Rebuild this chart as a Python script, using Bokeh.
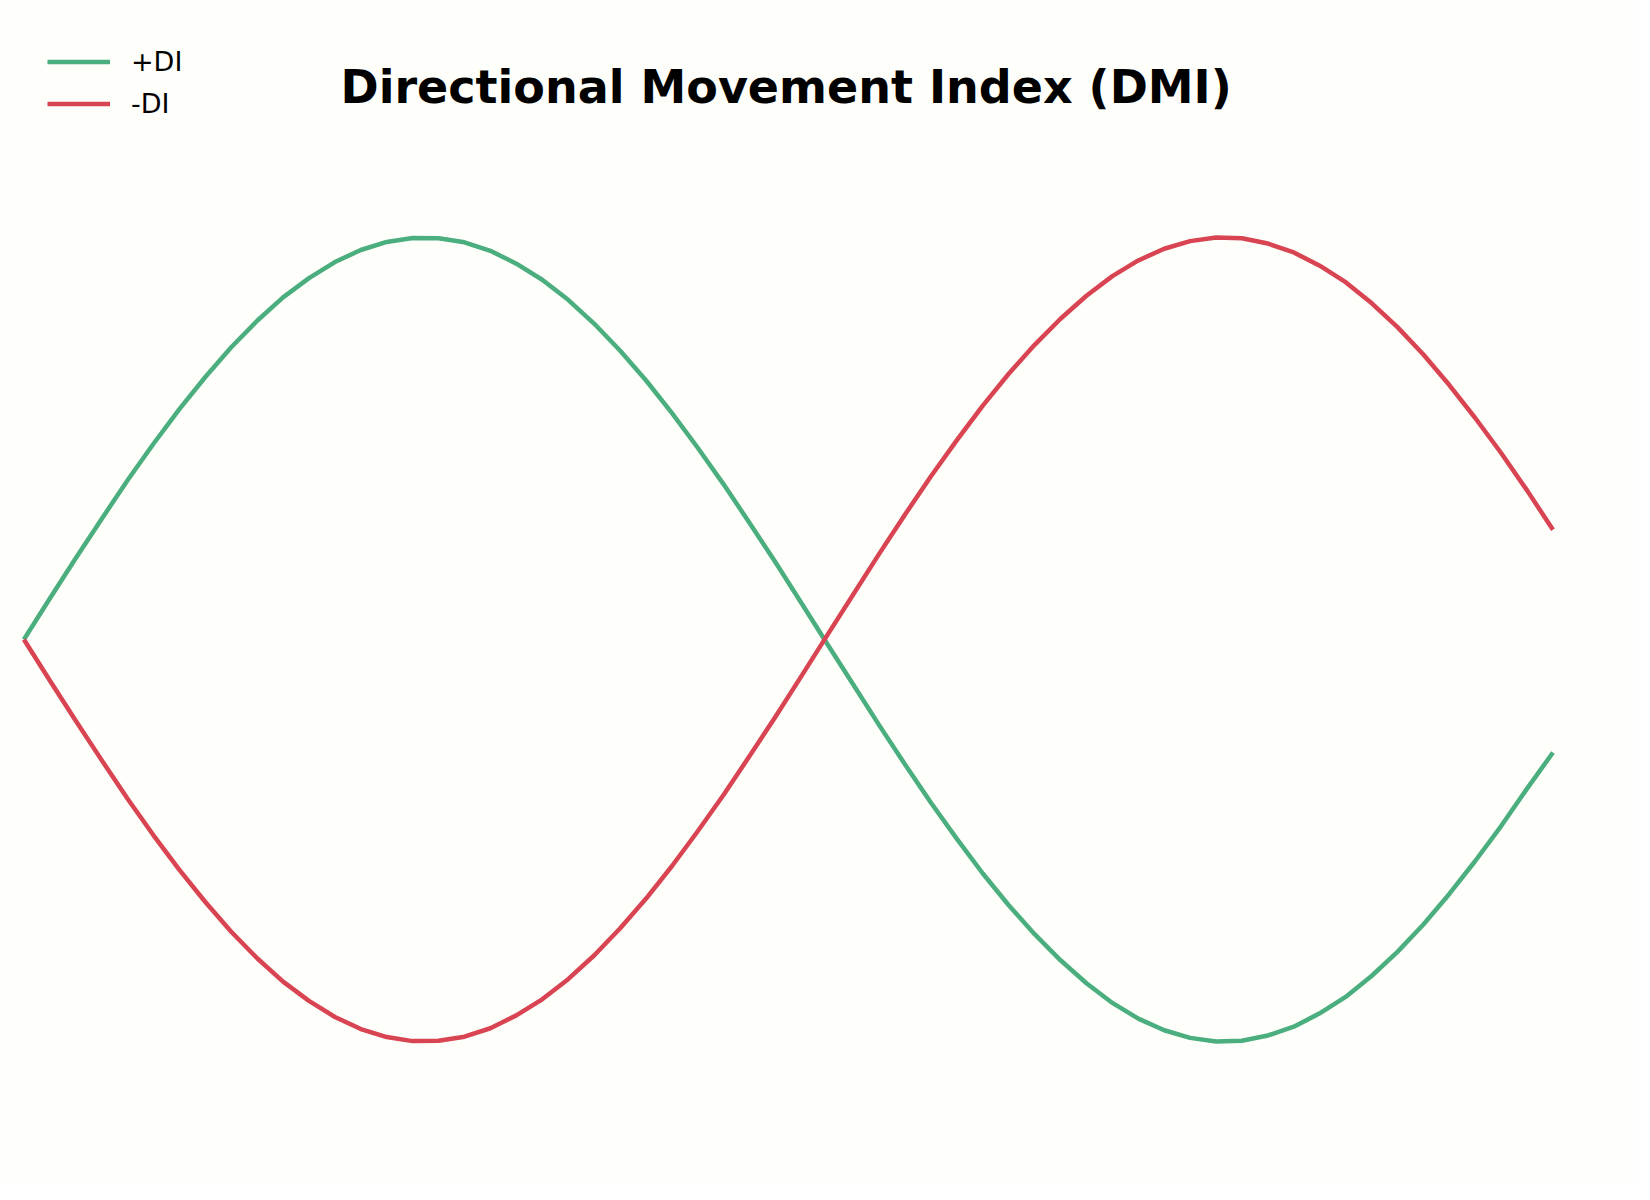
from bokeh.plotting import figure
from bokeh.models import Range1d, Legend, LegendItem
from bokeh.core.properties import value
from bokeh.embed import file_html
from bokeh.resources import INLINE

title_text = "Directional Movement Index (DMI)"
series_names = ["+DI", "-DI"]
periods = list(range(60))
plus_di = [0.000, 0.102, 0.202, 0.300, 0.396, 0.487, 0.573, 0.653, 0.727, 0.793,
           0.851, 0.899, 0.939, 0.969, 0.989, 0.999, 0.998, 0.988, 0.967, 0.935,
           0.895, 0.845, 0.786, 0.719, 0.645, 0.564, 0.477, 0.386, 0.290, 0.192,
           0.091, -0.011, -0.112, -0.213, -0.311, -0.406, -0.496, -0.582, -0.661, -0.733,
           -0.798, -0.855, -0.904, -0.943, -0.972, -0.991, -1.000, -0.998, -0.985, -0.963,
           -0.930, -0.889, -0.837, -0.777, -0.709, -0.633, -0.551, -0.464, -0.371, -0.281]
minus_di = [0.000, -0.102, -0.202, -0.300, -0.396, -0.487, -0.573, -0.653, -0.727, -0.793,
            -0.851, -0.899, -0.939, -0.969, -0.989, -0.999, -0.998, -0.988, -0.967, -0.935,
            -0.895, -0.845, -0.786, -0.719, -0.645, -0.564, -0.477, -0.386, -0.290, -0.192,
            -0.091, 0.011, 0.112, 0.213, 0.311, 0.406, 0.496, 0.582, 0.661, 0.733,
            0.798, 0.855, 0.904, 0.943, 0.972, 0.991, 1.000, 0.998, 0.985, 0.963,
            0.930, 0.889, 0.837, 0.777, 0.709, 0.633, 0.551, 0.464, 0.371, 0.273]

GREEN = "#4bae7f"
RED = "#d94452"
BG = "#fefefa"

W, H = 1634, 1184
p = figure(width=W, height=H, output_backend="svg", toolbar_location=None,
           x_range=Range1d(-0.903, 62.146), y_range=Range1d(-1.3557, 1.5896),
           min_border=0, min_border_left=0, min_border_right=0,
           min_border_top=0, min_border_bottom=0)
p.background_fill_color = BG
p.border_fill_color = BG
p.outline_line_color = None
p.axis.visible = False
p.grid.visible = False

r1 = p.line(periods, plus_di, line_color=GREEN, line_width=4.5, line_join="round")
r2 = p.line(periods, minus_di, line_color=RED, line_width=4.5, line_join="round")

# title, centred over the drawn series
p.text(x=[29.41], y=[1.374], text=[title_text], text_align="center",
       text_baseline="middle", text_font=value("DejaVu Sans"),
       text_font_style="bold", text_font_size="46px", text_color="#000000")

legend = Legend(items=[LegendItem(label=series_names[0], renderers=[r1]),
                       LegendItem(label=series_names[1], renderers=[r2])],
                location=(47, 1065.5), margin=0, padding=0, spacing=11,
                glyph_width=63, glyph_height=31, label_height=31,
                label_standoff=21, label_text_font="DejaVu Sans",
                label_text_font_size="27px", label_text_color="#000000",
                background_fill_alpha=0, border_line_alpha=0)
p.add_layout(legend)

open("out.html", "w").write(file_html(p, INLINE))
